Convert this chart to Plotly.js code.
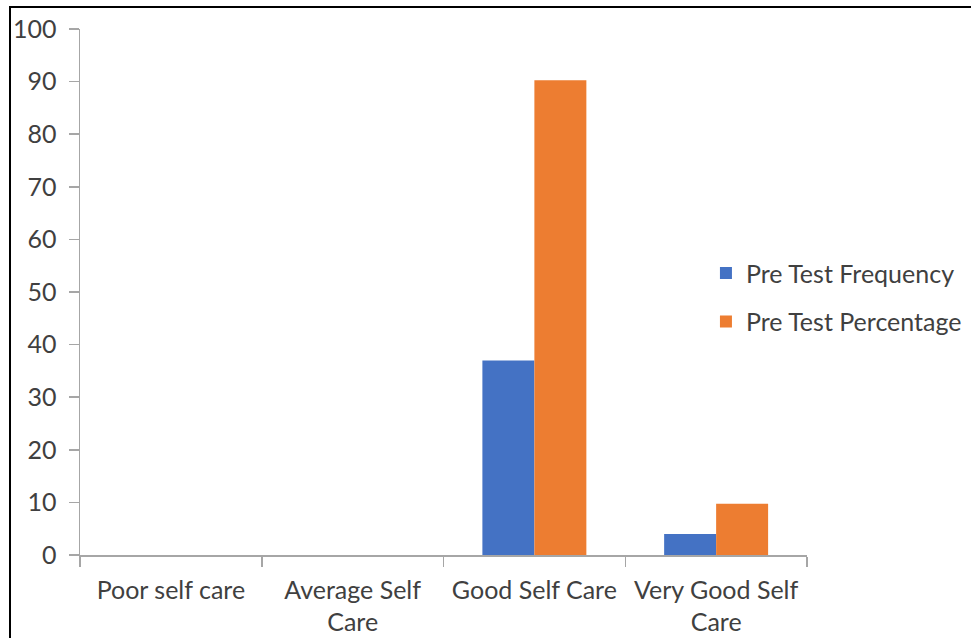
<!DOCTYPE html>
<html>
<head>
<meta charset="utf-8">
<script src="https://cdn.plot.ly/plotly-3.0.1.min.js"></script>
<style>
  html, body { margin: 0; padding: 0; background: #ffffff; }
  #wrap { position: relative; width: 971px; height: 638px; overflow: hidden; }
  #chart { position: absolute; left: 0; top: 0; width: 971px; height: 638px; }
  #frame { position: absolute; left: 9px; top: 6px; width: 1000px; height: 700px;
           border-left: 2px solid #000; border-top: 2px solid #000; pointer-events: none; }
</style>
</head>
<body>
<div id="wrap">
  <div id="chart"></div>
  <div id="frame"></div>
</div>
<script>
// Self-care levels and pre-test results
const categories = ["Poor self care", "Average Self Care", "Good Self Care", "Very Good Self Care"];
const categoryLabels = ["Poor self care", "Average Self<br>Care", "Good Self Care", "Very Good Self<br>Care"];
const preTestFrequency = [0, 0, 37, 4];
const preTestPercentage = [0, 0, 90.24, 9.76];
const yTicks = [0, 10, 20, 30, 40, 50, 60, 70, 80, 90, 100];

const FONT = "Lato, 'Liberation Sans', Arial, sans-serif";
const TEXT = "#404040";
const AXIS = "#a6a6a6";
const SIZE = 25;

const traces = [
  {
    type: "bar",
    name: "Pre Test Frequency",
    x: categories,
    y: preTestFrequency,
    marker: { color: "#4472c4" },
    legendgroup: "a",
    hoverinfo: "y"
  },
  {
    type: "bar",
    name: "Pre Test Percentage",
    x: categories,
    y: preTestPercentage,
    marker: { color: "#ed7d31" },
    legendgroup: "b",
    hoverinfo: "y"
  }
];

const layout = {
  width: 971,
  height: 638,
  margin: { l: 80, r: 164, t: 29, b: 83, pad: 0, autoexpand: false },
  paper_bgcolor: "rgba(0,0,0,0)",
  plot_bgcolor: "rgba(0,0,0,0)",
  font: { family: FONT, size: SIZE, color: TEXT },
  barmode: "group",
  bargap: 0.428,
  bargroupgap: 0,
  showlegend: true,
  legend: {
    x: 0.861, xanchor: "left",
    y: 0.49, yanchor: "middle",
    traceorder: "grouped",
    tracegroupgap: 13,
    font: { family: FONT, size: SIZE, color: TEXT },
    bgcolor: "rgba(0,0,0,0)"
  },
  xaxis: {
    type: "category",
    tickmode: "array",
    tickvals: categories,
    ticktext: categoryLabels,
    range: [-0.5, 3.5],
    tickson: "boundaries",
    ticks: "outside",
    ticklen: 10,
    tickwidth: 1.5,
    tickcolor: AXIS,
    showline: true,
    linecolor: AXIS,
    linewidth: 1.5,
    showgrid: false,
    zeroline: false,
    ticklabelstandoff: 12,
    tickfont: { family: FONT, size: SIZE, color: TEXT },
    automargin: false,
    fixedrange: true
  },
  yaxis: {
    range: [0, 100],
    tickmode: "array",
    tickvals: yTicks,
    ticks: "outside",
    ticklen: 10,
    tickwidth: 1.5,
    tickcolor: AXIS,
    showline: true,
    linecolor: AXIS,
    linewidth: 1.5,
    showgrid: false,
    zeroline: false,
    ticklabelstandoff: 7,
    tickfont: { family: FONT, size: SIZE, color: TEXT },
    automargin: false,
    fixedrange: true
  }
};

Plotly.newPlot("chart", traces, layout, { displayModeBar: false, staticPlot: true });
</script>
</body>
</html>
